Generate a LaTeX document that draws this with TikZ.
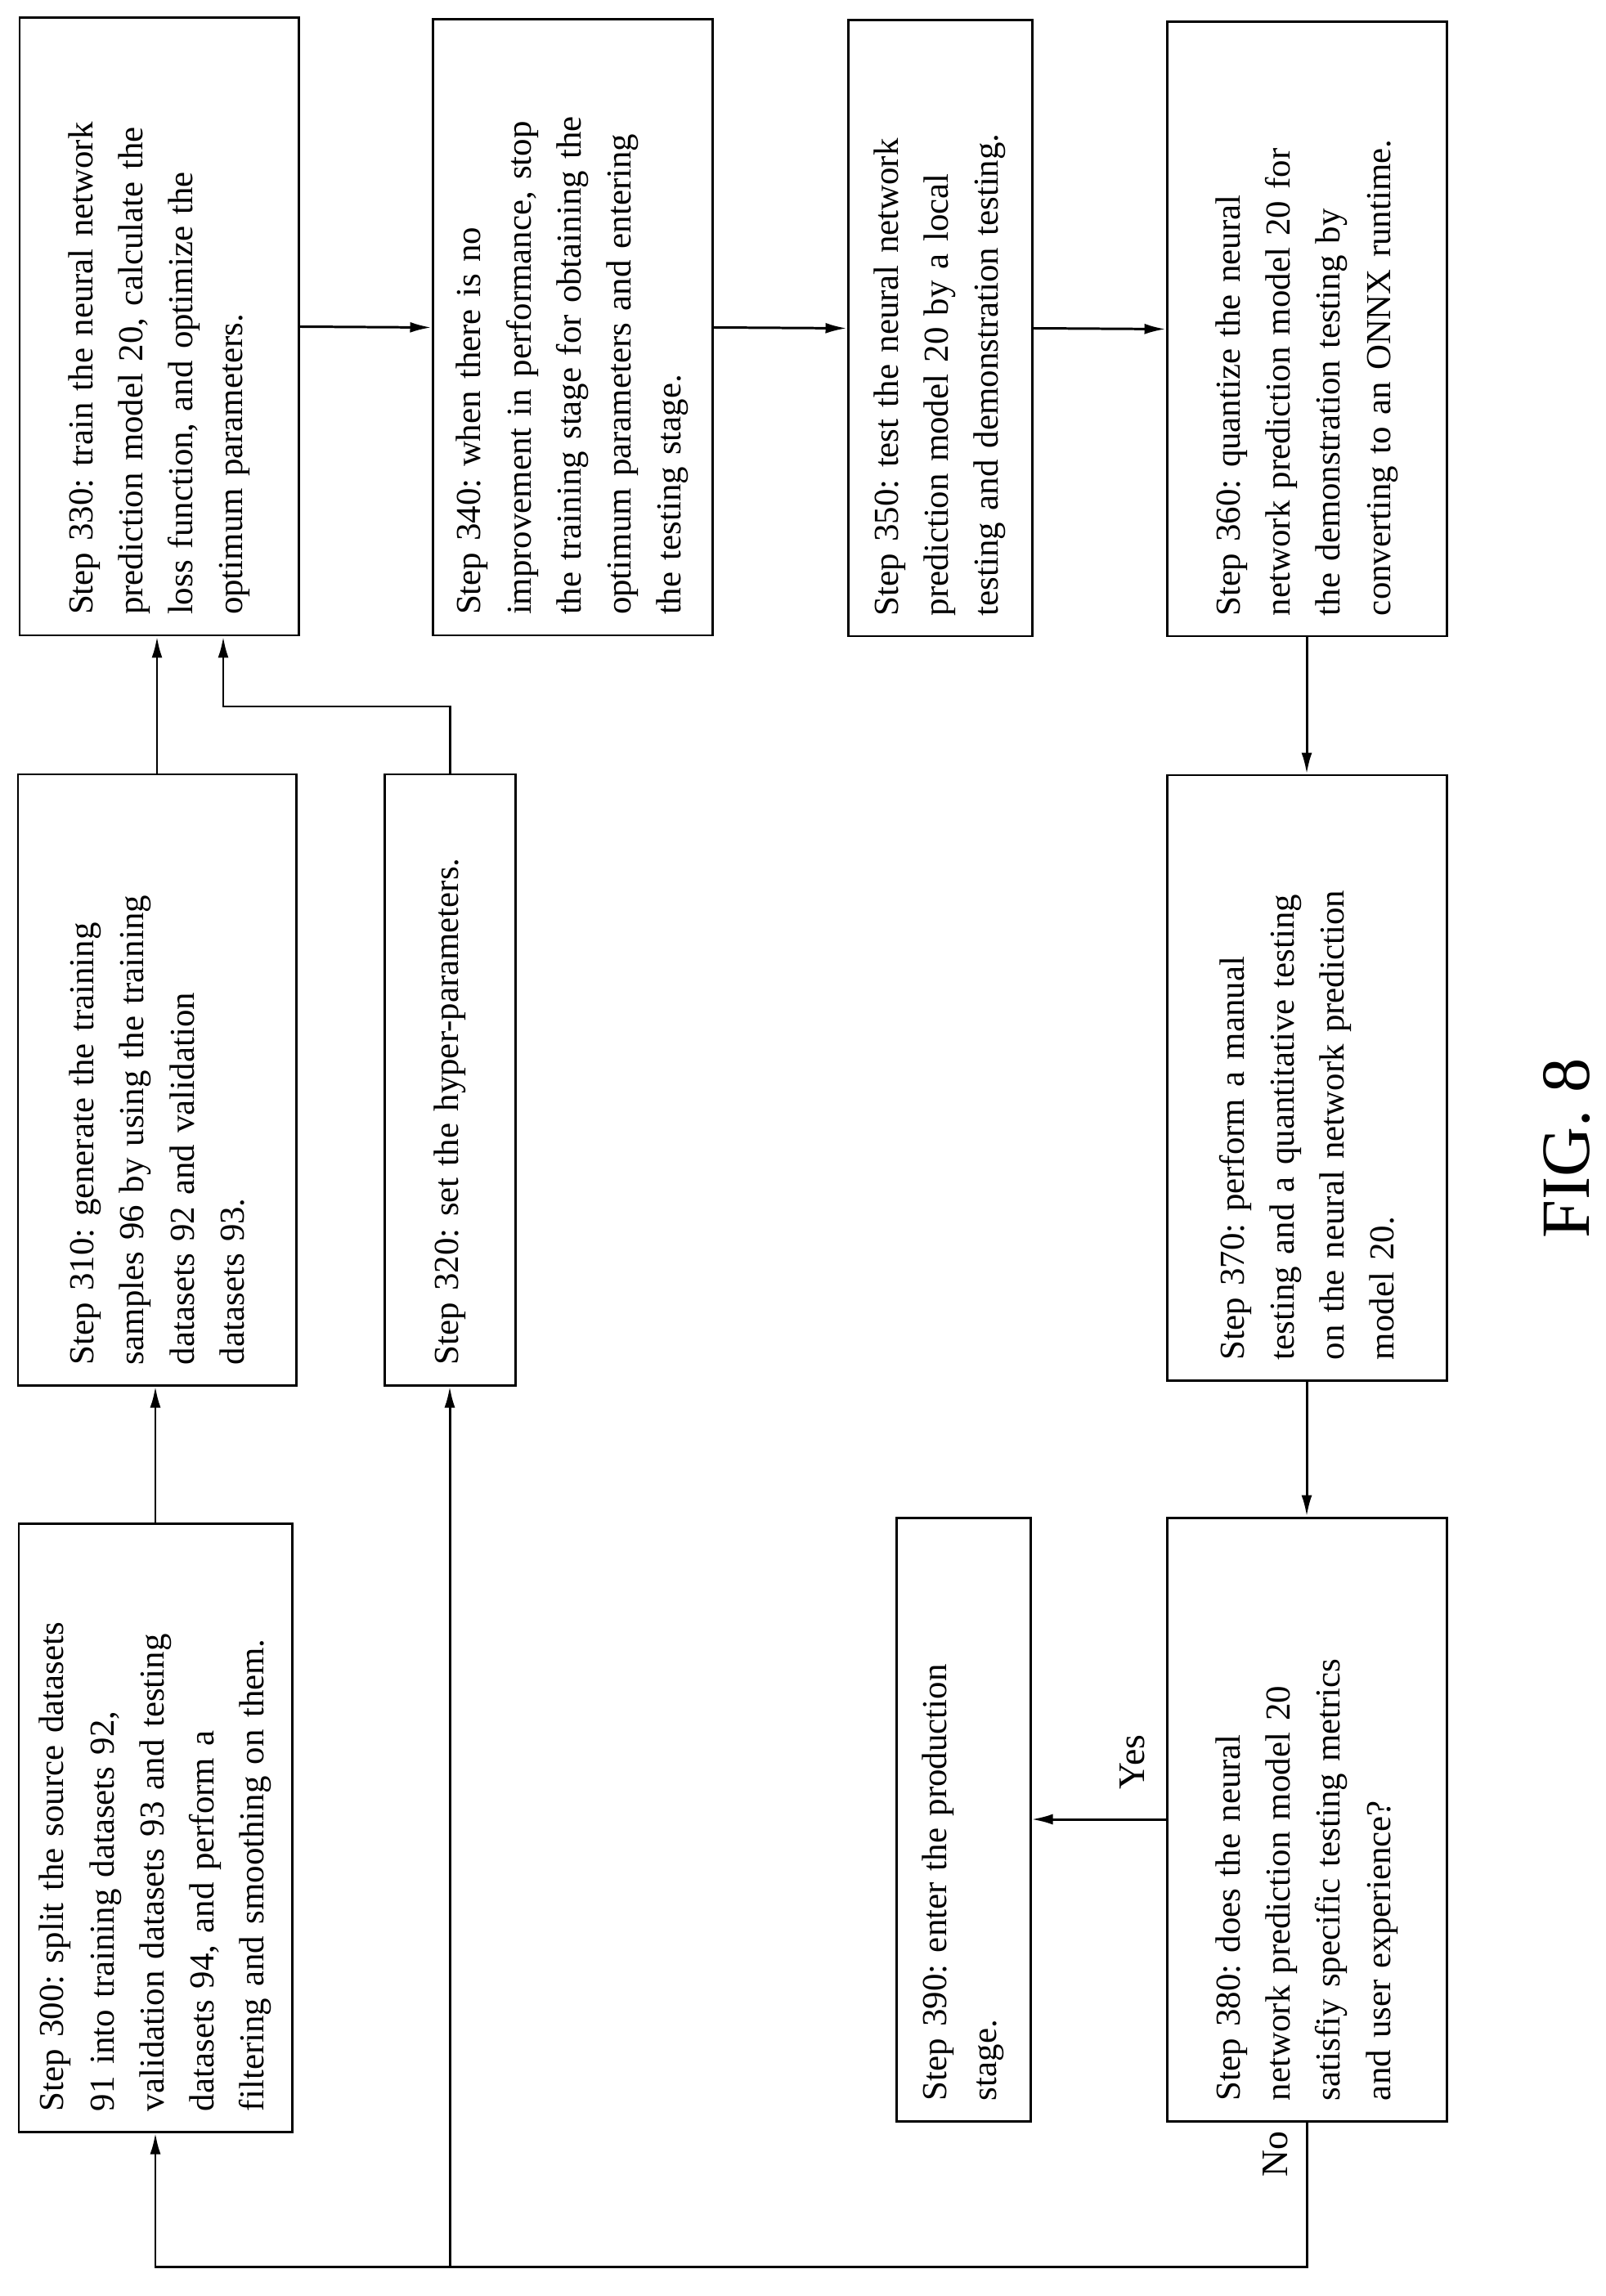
\documentclass[tikz,border=0pt]{standalone}
\usepackage{fontspec}
\setmainfont{Liberation Serif}
\usetikzlibrary{arrows.meta}
\frenchspacing
\hyphenpenalty=10000
\begin{document}
\begin{tikzpicture}[x=1mm,y=-1mm,line width=0.85pt,
  box/.style n args={3}{draw,rotate=90,align=left,inner xsep=2.5mm,inner ysep=0pt,
    text width=#1,minimum height=#2,minimum width=#3,
    font=\fontsize{12.2}{17.4}\selectfont},
  arr/.style={-{Latex[length=2.6mm,width=1.3mm]}},
  lab/.style={rotate=90,font=\fontsize{13}{16}\selectfont}]
\useasboundingbox (0,0) rectangle (196.3,280.8);
\node[box={70.5mm}{34.1mm}{75.5mm}] (n330) at (19.45,39.95) {Step 330: train the neural network\\prediction model 20, calculate the\\loss function, and optimize the\\optimum parameters.};
\node[box={70.3mm}{34.2mm}{75.3mm}] (n340) at (70.0,40.05) {Step 340: when there is no\\improvement in performance, stop\\the training stage for obtaining the\\optimum parameters and entering\\the testing stage.};
\node[box={70.3mm}{22.5mm}{75.3mm}] (n350) at (114.95,40.15) {Step 350: test the neural network\\prediction model 20 by a local\\testing and demonstration testing.};
\node[box={70.1mm}{34.2mm}{75.1mm}] (n360) at (159.8,40.25) {Step 360: quantize the neural\\network prediction model 20 for\\the demonstration testing by\\converting to an ONNX runtime.};
\node[box={69.7mm}{34mm}{74.7mm}] (n310) at (19.2,132.05) {Step 310: generate the training\\samples 96 by using the training\\datasets 92 and validation\\datasets 93.};
\node[box={69.7mm}{16mm}{74.7mm}] (n320) at (55.0,132.05) {Step 320: set the hyper-parameters.};
\node[box={69mm}{34.2mm}{74mm}] (n370) at (159.8,131.8) {Step 370: perform a manual\\testing and a quantitative testing\\on the neural network prediction\\model 20.};
\node[box={69.4mm}{33.4mm}{74.4mm}] (n300) at (19.0,223.5) {Step 300: split the source datasets\\91 into training datasets 92,\\validation datasets 93 and testing\\datasets 94, and perform a\\filtering and smoothing on them.};
\node[box={68.8mm}{34.2mm}{73.8mm}] (n380) at (159.8,222.5) {Step 380: does the neural\\network prediction model 20\\satisfiy specific testing metrics\\and user experience?};
\node[box={68.8mm}{16.4mm}{73.8mm}] (n390) at (117.8,222.5) {Step 390: enter the production\\stage.};
\node[lab] (yes) at (138.5,215.5) {Yes};
\node[lab] (no) at (156.0,263.5) {No};
\node[rotate=90,font=\fontsize{24}{28}\selectfont] (fig) at (191.6,140.4) {FIG. 8};
\coordinate (j) at (27.3,86.4);
\coordinate (b) at (0,277.2);
\draw[arr] (n330.south) -- (n340.north);
\draw[arr] (n340.south) -- (n350.north);
\draw[arr] (n350.south) -- (n360.north);
\draw[arr] (n360.west) -- (n370.east);
\draw[arr] (n370.west) -- (n380.east);
\draw[arr] (n380.north) -- (n390.south);
\draw[arr] (n310.east) -- (n310.east |- n330.west);
\draw[arr] (n300.east) -- (n300.east |- n310.west);
\draw[arr] (n320.east) |- (j) -- (j |- n330.west);
\draw[arr] (n380.west) -- (n380.west |- b) -- (n300.west |- b) -- (n300.west);
\draw[arr] (n320.west |- b) -- (n320.west);
\end{tikzpicture}
\end{document}
